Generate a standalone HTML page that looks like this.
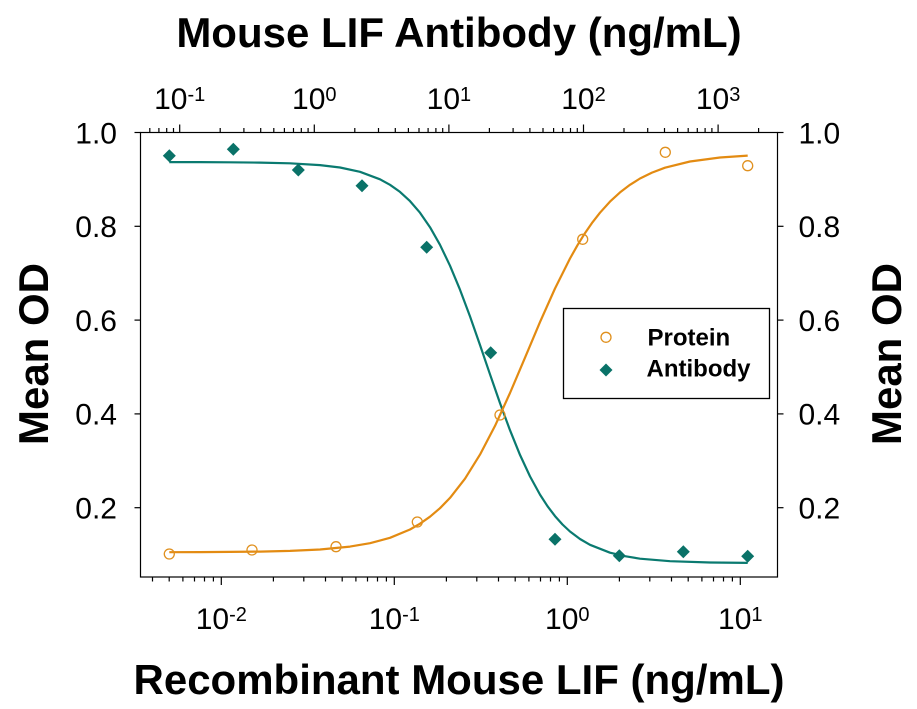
<!DOCTYPE html>
<html>
<head>
<meta charset="utf-8">
<style>
html,body{margin:0;padding:0;background:#fff;}
svg{display:block;}
text{font-family:"Liberation Sans",Arial,sans-serif;fill:#000;}
</style>
</head>
<body>
<svg width="917" height="709" viewBox="0 0 917 709" xmlns="http://www.w3.org/2000/svg">
<rect width="917" height="709" fill="#fff"/>

<!-- Titles -->
<text x="459" y="47" font-size="42" font-weight="bold" text-anchor="middle">Mouse LIF Antibody (ng/mL)</text>
<text x="459" y="694" font-size="42" font-weight="bold" text-anchor="middle">Recombinant Mouse LIF (ng/mL)</text>
<text transform="translate(48,354) rotate(-90)" font-size="42" font-weight="bold" text-anchor="middle">Mean OD</text>
<text transform="translate(901,354) rotate(-90)" font-size="42" font-weight="bold" text-anchor="middle">Mean OD</text>

<!-- Frame -->
<g stroke="#000" stroke-width="1.2" fill="none">
<rect x="140.5" y="132.5" width="637" height="444.5"/>
</g>

<!-- Y ticks left and right -->
<g stroke="#000" stroke-width="1.2">
<line x1="134.5" y1="132.5" x2="140.5" y2="132.5"/>
<line x1="134.5" y1="226.3" x2="140.5" y2="226.3"/>
<line x1="134.5" y1="320.1" x2="140.5" y2="320.1"/>
<line x1="134.5" y1="413.9" x2="140.5" y2="413.9"/>
<line x1="134.5" y1="507.7" x2="140.5" y2="507.7"/>
<line x1="777.5" y1="132.5" x2="783.5" y2="132.5"/>
<line x1="777.5" y1="226.3" x2="783.5" y2="226.3"/>
<line x1="777.5" y1="320.1" x2="783.5" y2="320.1"/>
<line x1="777.5" y1="413.9" x2="783.5" y2="413.9"/>
<line x1="777.5" y1="507.7" x2="783.5" y2="507.7"/>
</g>
<g font-size="30" text-anchor="end">
<text x="117" y="143.3">1.0</text>
<text x="117" y="237.1">0.8</text>
<text x="117" y="330.9">0.6</text>
<text x="117" y="424.7">0.4</text>
<text x="117" y="518.5">0.2</text>
</g>
<g font-size="30" text-anchor="start">
<text x="798.5" y="143.3">1.0</text>
<text x="798.5" y="237.1">0.8</text>
<text x="798.5" y="330.9">0.6</text>
<text x="798.5" y="424.7">0.4</text>
<text x="798.5" y="518.5">0.2</text>
</g>

<!-- Bottom axis ticks -->
<g stroke="#000" stroke-width="1.2">
<path d="M152.5 577v4.5M169.2 577v4.5M182.9 577v4.5M194.5 577v4.5M204.5 577v4.5M213.4 577v4.5
M273.4 577v4.5M303.8 577v4.5M325.5 577v4.5M342.2 577v4.5M355.9 577v4.5M367.5 577v4.5M377.5 577v4.5M386.4 577v4.5
M446.4 577v4.5M476.8 577v4.5M498.5 577v4.5M515.2 577v4.5M528.9 577v4.5M540.5 577v4.5M550.5 577v4.5M559.4 577v4.5
M619.4 577v4.5M649.8 577v4.5M671.5 577v4.5M688.2 577v4.5M701.9 577v4.5M713.5 577v4.5M723.5 577v4.5M732.4 577v4.5"/>
<path d="M221.3 577v8M394.3 577v8M567.3 577v8M740.3 577v8"/>
</g>
<g font-size="30" text-anchor="middle">
<text x="221.3" y="629">10<tspan font-size="20" dy="-8">-2</tspan></text>
<text x="394.3" y="629">10<tspan font-size="20" dy="-8">-1</tspan></text>
<text x="567.3" y="629">10<tspan font-size="20" dy="-8">0</tspan></text>
<text x="740.3" y="629">10<tspan font-size="20" dy="-8">1</tspan></text>
</g>

<!-- Top axis ticks -->
<g stroke="#000" stroke-width="1.2">
<path d="M149.8 132.5v-4.5M158.9 132.5v-4.5M166.7 132.5v-4.5M173.5 132.5v-4.5
M220.2 132.5v-4.5M243.9 132.5v-4.5M260.7 132.5v-4.5M273.8 132.5v-4.5M284.4 132.5v-4.5M293.5 132.5v-4.5M301.3 132.5v-4.5M308.1 132.5v-4.5
M354.8 132.5v-4.5M378.5 132.5v-4.5M395.3 132.5v-4.5M408.4 132.5v-4.5M419.0 132.5v-4.5M428.1 132.5v-4.5M435.9 132.5v-4.5M442.7 132.5v-4.5
M489.4 132.5v-4.5M513.1 132.5v-4.5M529.9 132.5v-4.5M543.0 132.5v-4.5M553.6 132.5v-4.5M562.7 132.5v-4.5M570.5 132.5v-4.5M577.3 132.5v-4.5
M624.0 132.5v-4.5M647.7 132.5v-4.5M664.5 132.5v-4.5M677.6 132.5v-4.5M688.2 132.5v-4.5M697.3 132.5v-4.5M705.1 132.5v-4.5M711.9 132.5v-4.5
M758.6 132.5v-4.5"/>
<path d="M179.7 132.5v-8M314.3 132.5v-8M448.9 132.5v-8M583.5 132.5v-8M718.1 132.5v-8"/>
</g>
<g font-size="30" text-anchor="middle">
<text x="179.7" y="109">10<tspan font-size="20" dy="-8">-1</tspan></text>
<text x="314.3" y="109">10<tspan font-size="20" dy="-8">0</tspan></text>
<text x="448.9" y="109">10<tspan font-size="20" dy="-8">1</tspan></text>
<text x="583.5" y="109">10<tspan font-size="20" dy="-8">2</tspan></text>
<text x="718.1" y="109">10<tspan font-size="20" dy="-8">3</tspan></text>
</g>

<!-- Curves -->
<polyline fill="none" stroke="#0A7A70" stroke-width="2.2" stroke-linejoin="round"
points="169.3,162.1 200,162.1 230,162.3 260,162.6 290,163.3 320,165.1 340,167.5 360,171.8 380,179.3 390,184.8 400,191.9 410,201.1 420,212.7 430,227.2 440,244.8 450,265.7 460,289.7 470,316.4 480,345.0 490,374.3 500,403.1 510,430.2 520,454.9 530,476.4 540,494.6 547.5,506.2 555,516.1 562.5,524.5 570,531.5 580,539.0 590,544.8 610,552.7 625,556.2 640,558.7 670,561.2 710,562.5 747.7,562.9"/>
<polyline fill="none" stroke="#E38B12" stroke-width="2.2" stroke-linejoin="round"
points="169.3,552.2 200,552.1 230,551.9 260,551.6 290,550.9 320,549.5 350,546.6 370,543.2 390,537.8 410,529.5 420,523.7 430,516.7 440,508.2 450,497.9 465,478.7 480,454.6 495,425.9 510,393.0 525,357.7 540,322.1 555,288.5 570,258.5 577.5,245.2 585,233.1 592.5,222.3 600,212.7 610,201.6 620,192.4 630,184.8 640,178.5 652,172.6 665,167.7 690,161.5 720,157.5 747.7,155.6"/>

<!-- Protein markers -->
<g fill="none" stroke="#E0901E" stroke-width="1.3">
<circle cx="169.3" cy="554" r="5"/>
<circle cx="252" cy="550" r="5"/>
<circle cx="336" cy="546.7" r="5"/>
<circle cx="417.3" cy="522" r="5"/>
<circle cx="500" cy="415" r="5"/>
<circle cx="582.7" cy="239.3" r="5"/>
<circle cx="665.3" cy="152.3" r="5"/>
<circle cx="747.7" cy="165.7" r="5"/>
</g>

<!-- Antibody markers -->
<g fill="#0A7268">
<polygon points="169.3,149.2 175.8,155.7 169.3,162.2 162.8,155.7"/>
<polygon points="233.3,142.8 239.8,149.3 233.3,155.8 226.8,149.3"/>
<polygon points="298.3,163.5 304.8,170 298.3,176.5 291.8,170"/>
<polygon points="362,179.2 368.5,185.7 362,192.2 355.5,185.7"/>
<polygon points="426.7,240.8 433.2,247.3 426.7,253.8 420.2,247.3"/>
<polygon points="490.7,346.2 497.2,352.7 490.7,359.2 484.2,352.7"/>
<polygon points="555,532.8 561.5,539.3 555,545.8 548.5,539.3"/>
<polygon points="619.3,549.2 625.8,555.7 619.3,562.2 612.8,555.7"/>
<polygon points="683.3,545.2 689.8,551.7 683.3,558.2 676.8,551.7"/>
<polygon points="747.7,549.8 754.2,556.3 747.7,562.8 741.2,556.3"/>
</g>

<!-- Legend -->
<rect x="563.5" y="308.5" width="206" height="90" fill="#fff" stroke="#000" stroke-width="1.3"/>
<circle cx="606" cy="337.3" r="5" fill="none" stroke="#E0901E" stroke-width="1.3"/>
<polygon points="606,363.5 612.5,370 606,376.5 599.5,370" fill="#0A7268"/>
<text x="647.5" y="345.7" font-size="24" font-weight="bold">Protein</text>
<text x="646.5" y="376.7" font-size="24" font-weight="bold">Antibody</text>
</svg>
</body>
</html>
